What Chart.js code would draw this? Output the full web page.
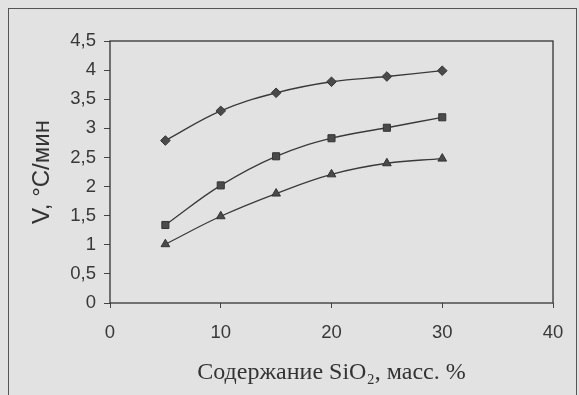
<!DOCTYPE html>
<html lang="ru">
<head>
    <meta charset="UTF-8">
    <title>V от содержания SiO2</title>
    <style>
        body {
            margin: 0;
            background-color: #e2e2e2;
            width: 579px;
            height: 395px;
            overflow: hidden;
            position: relative;
        }
        .frame {
            position: absolute;
            left: 8px;
            top: 8px;
            width: 567px;
            height: 400px;
            border: 1.5px solid #555;
            border-bottom: none;
        }
        .chart-box {
            position: absolute;
            left: 0;
            top: 0;
            width: 579px;
            height: 395px;
        }
    </style>
    <script src="https://cdn.jsdelivr.net/npm/chart.js"></script>
</head>
<body>
    <div class="frame"></div>
    <div class="chart-box">
        <canvas id="vChart"></canvas>
    </div>
    <script>
        // содержание SiO2, масс. %
        const sio2 = [5, 10, 15, 20, 25, 30];
        // скорость V, °C/мин для трёх кривых
        const diamondSeries = [2.79, 3.30, 3.61, 3.80, 3.89, 3.99];
        const squareSeries = [1.34, 2.02, 2.52, 2.83, 3.01, 3.19];
        const triangleSeries = [1.01, 1.49, 1.88, 2.21, 2.40, 2.48];

        const xTitle = 'Содержание SiO₂, масс. %';
        const yTitle = 'V, °C/мин';

        function toPoints(values) {
            return sio2.map((x, i) => ({ x: x, y: values[i] }));
        }

        function makeSet(values, style, radius) {
            return {
                data: toPoints(values),
                showLine: true,
                borderColor: '#3a3a3a',
                borderWidth: 1.3,
                pointStyle: style,
                pointRadius: radius,
                pointBackgroundColor: '#4a4a4a',
                pointBorderColor: '#333',
                pointBorderWidth: 1,
                tension: 0.4
            };
        }

        // рамка вокруг области построения
        const boxPlugin = {
            id: 'box',
            afterDraw(chart) {
                const a = chart.chartArea;
                const ctx = chart.ctx;
                ctx.save();
                ctx.strokeStyle = '#333';
                ctx.lineWidth = 1.3;
                ctx.strokeRect(a.left, a.top, a.right - a.left, a.bottom - a.top);
                ctx.restore();
            }
        };

        const tickFont = { family: 'Arial, "Liberation Sans", sans-serif', size: 18.5 };

        new Chart(document.getElementById('vChart').getContext('2d'), {
            type: 'scatter',
            data: {
                datasets: [
                    makeSet(diamondSeries, 'rectRot', 4.8),
                    makeSet(squareSeries, 'rect', 5),
                    makeSet(triangleSeries, 'triangle', 5)
                ]
            },
            options: {
                responsive: true,
                maintainAspectRatio: false,
                animation: false,
                layout: {
                    padding: { left: 22, top: 41, right: 26, bottom: 6 }
                },
                plugins: {
                    legend: { display: false },
                    tooltip: { enabled: false }
                },
                scales: {
                    x: {
                        type: 'linear',
                        min: 0,
                        max: 40,
                        afterFit: s => { s.height = 86; },
                        border: { display: false },
                        grid: {
                            drawOnChartArea: false,
                            tickLength: 5,
                            color: '#444'
                        },
                        ticks: {
                            stepSize: 10,
                            padding: 14,
                            color: '#383838',
                            font: tickFont,
                            maxRotation: 0
                        },
                        title: {
                            display: true,
                            text: xTitle,
                            color: '#333',
                            font: { family: '"Liberation Serif", "Times New Roman", serif', size: 24 },
                            padding: { top: 0, bottom: 2 }
                        }
                    },
                    y: {
                        min: 0,
                        max: 4.5,
                        afterFit: s => { s.width = 88; },
                        border: { display: false },
                        grid: {
                            drawOnChartArea: false,
                            tickLength: 6,
                            color: '#444'
                        },
                        ticks: {
                            stepSize: 0.5,
                            padding: 8,
                            color: '#383838',
                            font: tickFont,
                            callback: v => String(v).replace('.', ',')
                        },
                        title: {
                            display: true,
                            text: yTitle,
                            color: '#333',
                            font: { family: 'Arial, "Liberation Sans", sans-serif', size: 24 },
                            padding: { top: 6, bottom: 0 }
                        }
                    }
                }
            },
            plugins: [boxPlugin]
        });
    </script>
</body>
</html>
